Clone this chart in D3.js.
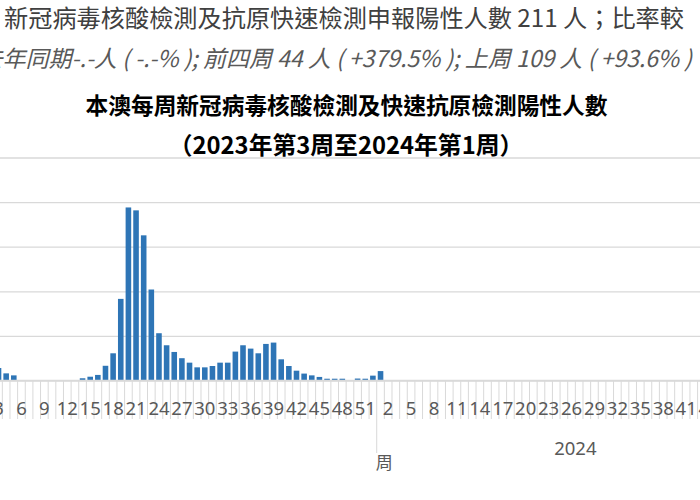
<!DOCTYPE html>
<html>
<head>
<meta charset="utf-8">
<script src="https://cdn.jsdelivr.net/npm/d3@7"></script>
<style>
body { margin: 0; background: #fff; }
svg { display: block; overflow: hidden; background: #fff; }
</style>
</head>
<body>
<svg id="chart" width="700" height="500"></svg>
<script>
// week numbers shown on the category axis
var weeks2023 = [3, 4, 5, 6, 7, 8, 9, 10, 11, 12, 13, 14, 15, 16, 17, 18, 19, 20, 21, 22,
    23, 24, 25, 26, 27, 28, 29, 30, 31, 32, 33, 34, 35, 36, 37, 38, 39, 40, 41, 42,
    43, 44, 45, 46, 47, 48, 49, 50, 51, 52];
var weeks2024 = [1, 2, 3, 4, 5, 6, 7, 8, 9, 10, 11, 12, 13, 14, 15, 16, 17, 18, 19, 20,
    21, 22, 23, 24, 25, 26, 27, 28, 29, 30, 31, 32, 33, 34, 35, 36, 37, 38, 39, 40,
    41, 42, 43, 44, 45, 46, 47, 48, 49, 50, 51, 52];

// weekly positives; 2024 only has week 1 so far
var cases2023 = [280, 160, 115, 0, 0, 0, 0, 0, 0, 0, 0, 50, 85, 125, 330, 610, 1830, 3880, 3815, 3255,
    2040, 1060, 790, 640, 500, 400, 295, 295, 325, 400, 400, 648, 790, 715, 610, 820, 850, 475, 325, 220,
    155, 115, 80, 40, 40, 40, null, 44, 40, 109];
var cases2024 = [211];

var yearLabels = ["", "2024"];
var yTicks = [0, 1000, 2000, 3000, 4000, 5000];

var titleLines = [
    "新冠病毒核酸檢測及抗原快速檢測申報陽性人數 211 人；比率較",
    "去年同期-.-人 ( -.-% ); 前四周 44 人 ( +379.5% ); 上周 109 人 ( +93.6% )",
    "本澳每周新冠病毒核酸檢測及快速抗原檢測陽性人數",
    "（2023年第3周至2024年第1周）"
];
var axisTitle = "周";

var cjk = "'Noto Sans CJK TC', 'Noto Sans', sans-serif";
var gridColor = "#d9d9d9";

var svg = d3.select("#chart");

var cats = [];
weeks2023.forEach(function(w, i) {
    cats.push({key: "2023-" + w, week: w, group: 0, value: cases2023[i]});
});
weeks2024.forEach(function(w, i) {
    cats.push({key: "2024-" + w, week: w, group: 1, value: cases2024[i]});
});

// plot area is wider than the picture, it is cut on both sides
var plotLeft = -5.3, plotRight = 774, plotTop = 157.5, plotBottom = 380.5;

var x = d3.scaleBand()
    .domain(cats.map(function(d) { return d.key; }))
    .range([plotLeft, plotRight])
    .paddingInner(0.27)
    .paddingOuter(0.135);

var y = d3.scaleLinear()
    .domain([0, 5000])
    .range([plotBottom, plotTop]);

// gridlines
svg.append("g")
    .attr("transform", "translate(" + plotLeft + ",0)")
    .call(d3.axisLeft(y).tickValues(yTicks).tickSize(-(plotRight - plotLeft)).tickFormat(""))
    .call(function(g) {
        g.select(".domain").remove();
        g.selectAll(".tick line").attr("stroke", gridColor).attr("stroke-width", 1.3);
    });

// tick marks between categories, longer ones between years
var step = x.step();
var bounds = d3.range(cats.length + 1).map(function(i) { return plotLeft + i * step; });
var groupStarts = [0, weeks2023.length, cats.length];
svg.append("g").selectAll("line")
    .data(bounds)
    .join("line")
    .attr("x1", function(d) { return d; })
    .attr("x2", function(d) { return d; })
    .attr("y1", plotBottom)
    .attr("y2", function(d, i) { return groupStarts.indexOf(i) >= 0 ? 453 : 419; })
    .attr("stroke", gridColor)
    .attr("stroke-width", 1);

// bars
svg.append("g").selectAll("rect")
    .data(cats.filter(function(d) { return d.value != null && d.value > 0; }))
    .join("rect")
    .attr("x", function(d) { return x(d.key); })
    .attr("width", x.bandwidth())
    .attr("y", function(d) { return y(d.value); })
    .attr("height", function(d) { return plotBottom - y(d.value); })
    .attr("fill", "#2e75b6");

// week labels every third category
svg.append("g")
    .attr("transform", "translate(0," + plotBottom + ")")
    .call(d3.axisBottom(x)
        .tickValues(cats.filter(function(d, i) { return i % 3 == 0; }).map(function(d) { return d.key; }))
        .tickSize(0)
        .tickPadding(34.5)
        .tickFormat(function(k) { return k.split("-")[1]; }))
    .call(function(g) {
        g.select(".domain").remove();
        g.selectAll("text")
            .attr("dy", 0)
            .attr("fill", "#595959")
            .attr("font-family", "'Noto Sans', sans-serif")
            .attr("font-size", 18.5);
    });

// axis line
svg.append("line")
    .attr("x1", plotLeft).attr("x2", plotRight)
    .attr("y1", plotBottom).attr("y2", plotBottom)
    .attr("stroke", gridColor)
    .attr("stroke-width", 1.3);

// year group labels
svg.append("g").selectAll("text")
    .data(yearLabels)
    .join("text")
    .attr("x", function(d, i) { return (bounds[groupStarts[i]] + bounds[groupStarts[i + 1]]) / 2; })
    .attr("y", 455)
    .attr("text-anchor", "middle")
    .attr("fill", "#595959")
    .attr("font-family", "'Noto Sans', sans-serif")
    .attr("font-size", 18.5)
    .text(function(d) { return d; });

svg.append("text")
    .attr("x", (plotLeft + plotRight) / 2)
    .attr("y", 469)
    .attr("text-anchor", "middle")
    .attr("fill", "#595959")
    .attr("font-family", cjk)
    .attr("font-size", 17)
    .text(axisTitle);

// titles
var titleStyle = [
    {x: 4, y: 27, size: 24.2, anchor: "start", fill: "#404040", weight: "normal", style: "normal"},
    {x: -20.5, y: 67, size: 23, anchor: "start", fill: "#595959", weight: "normal", style: "italic"},
    {x: 346.5, y: 114, size: 22.7, anchor: "middle", fill: "#000", weight: "bold", style: "normal"},
    {x: 346, y: 153.5, size: 23.8, anchor: "middle", fill: "#000", weight: "bold", style: "normal"}
];
svg.append("g").selectAll("text")
    .data(titleLines)
    .join("text")
    .attr("x", function(d, i) { return titleStyle[i].x; })
    .attr("y", function(d, i) { return titleStyle[i].y; })
    .attr("text-anchor", function(d, i) { return titleStyle[i].anchor; })
    .attr("fill", function(d, i) { return titleStyle[i].fill; })
    .attr("font-weight", function(d, i) { return titleStyle[i].weight; })
    .attr("font-style", function(d, i) { return titleStyle[i].style; })
    .attr("font-size", function(d, i) { return titleStyle[i].size; })
    .attr("font-family", cjk)
    .text(function(d) { return d; });
</script>
</body>
</html>
